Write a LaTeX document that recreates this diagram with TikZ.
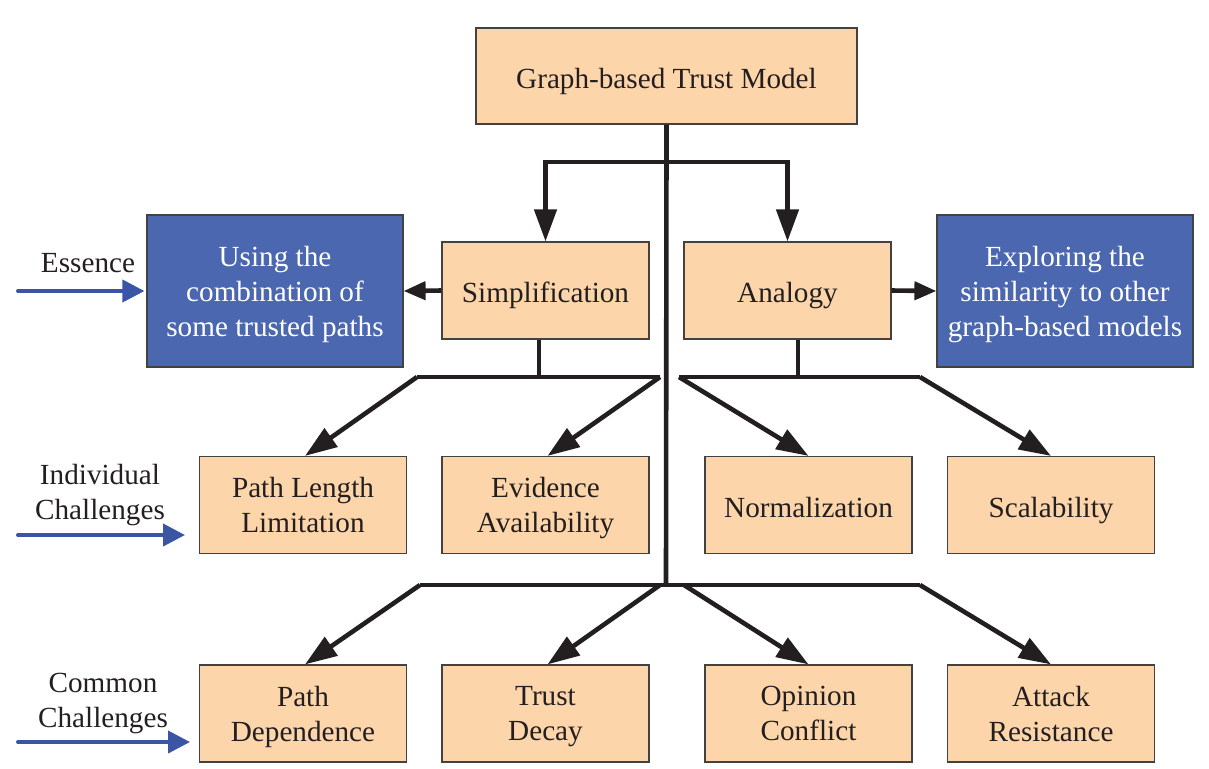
\documentclass[tikz,border=0pt]{standalone}
\usepackage{fontspec}
\setmainfont{Liberation Serif}
\usetikzlibrary{arrows.meta}
\definecolor{peach}{RGB}{253,213,170}
\definecolor{bluebox}{RGB}{74,103,176}
\definecolor{bluearrow}{RGB}{59,85,165}
\definecolor{ink}{RGB}{35,31,32}
\begin{document}
\begin{tikzpicture}[x=0.5pt,y=-0.5pt,
  every node/.style={font=\fontsize{14.6}{17.5}\selectfont, text=ink, align=center, inner sep=0pt,
    execute at begin node=\strut, execute at end node=\strut},
  boxtext/.style={label={[yshift=-2.6pt, text=ink]center:{#1}}},
  wboxtext/.style={label={[yshift=-2.6pt, text=white]center:{#1}}},
  pbox/.style={draw=ink!85, line width=0.6pt, fill=peach, minimum width=103.5pt, minimum height=48.5pt, boxtext={#1}},
  topbox/.style={pbox={#1}, minimum width=190.5pt, minimum height=48pt},
  bbox/.style={draw=ink!85, line width=0.6pt, fill=bluebox, minimum width=128pt, minimum height=76pt, wboxtext={#1}},
  tline/.style={draw=ink, line width=2.3pt},
  bigarr/.style={tline, -{Triangle[length=16pt,width=11pt]}},
  smallarr/.style={tline, -{Triangle[length=11pt,width=9pt]}},
  bluearr/.style={draw=bluearrow, line width=2pt, line cap=round, -{Triangle[length=11pt,width=11pt]}},
  lbl/.style={}
]
\useasboundingbox (0,0) rectangle (1209,768);

% nodes
\node[topbox={Graph-based Trust Model}] (top) at (666.5,76) {};
\node[pbox={Simplification}] (simp) at (545.5,290.5) {};
\node[pbox={Analogy}] (ana) at (787.5,290.5) {};
\node[bbox={Using the\\combination of\\some trusted paths}] (bl) at (275,291) {};
\node[bbox={Exploring the\\similarity to other\\graph-based models}] (br) at (1065,291) {};

\node[pbox={Path Length\\Limitation}] (pl) at (303,505) {};
\node[pbox={Evidence\\Availability}] (ev) at (545.5,505) {};
\node[pbox={Normalization}] (no) at (808.5,505) {};
\node[pbox={Scalability}] (sc) at (1051,505) {};

\node[pbox={Path\\Dependence}] (pd) at (303,713.5) {};
\node[pbox={Trust\\Decay}] (td) at (545.5,713.5) {};
\node[pbox={Opinion\\Conflict}] (oc) at (808.5,713.5) {};
\node[pbox={Attack\\Resistance}] (ar) at (1051,713.5) {};

% left labels
\node[lbl] (ess) at (88,265.5) {Essence};
\node[lbl] (ind) at (100,497) {Individual\\Challenges};
\node[lbl] (com) at (103,706) {Common\\Challenges};

% junction coordinates
\coordinate (j1) at (666,162);
\coordinate (jb) at (666,585);
\coordinate (sj) at (539,377);
\coordinate (sL) at (417,377);
\coordinate (sR) at (660,377);
\coordinate (aj) at (798,377);
\coordinate (aL) at (679,377);
\coordinate (aR) at (920,377);
\coordinate (bL) at (420,585);
\coordinate (bM1) at (660,585);
\coordinate (bM2) at (684,585);
\coordinate (bR) at (920,585);

% trunk
\draw[tline] (top.south) -- (jb);
\draw[tline] (545.5,162) -- (787.5,162);
\draw[bigarr] (j1) -| (simp.north);
\draw[bigarr] (j1) -| (ana.north);

% side arrows
\draw[smallarr] (simp.west) -- (bl.east);
\draw[smallarr] (ana.east) -- (br.west);

% simplification branch
\draw[tline] (simp.south -| sj) -- (sj);
\draw[tline] (sL) -- (sR);
\draw[bigarr] (sL) -- ([xshift=1pt]pl.north);
\draw[bigarr] (sR) -- ([xshift=1pt]ev.north);

% analogy branch
\draw[tline] (ana.south -| aj) -- (aj);
\draw[tline] (aL) -- (aR);
\draw[bigarr] (aL) -- (no.north);
\draw[bigarr] (aR) -- (sc.north);

% common branch
\draw[tline] (bL) -- (bR);
\draw[bigarr] (bL) -- ([xshift=1pt]pd.north);
\draw[bigarr] (bM1) -- ([xshift=1pt]td.north);
\draw[bigarr] (bM2) -- (oc.north);
\draw[bigarr] (bR) -- (ar.north);

% blue arrows
\coordinate (e0) at (18,291);
\coordinate (i0) at (18,535);
\coordinate (i1) at (185,535);
\coordinate (c0) at (18,742);
\coordinate (c1) at (190,742);
\draw[bluearr] (e0) -- ([xshift=-1pt]bl.west);
\draw[bluearr] (i0) -- (i1);
\draw[bluearr] (c0) -- (c1);
\end{tikzpicture}
\end{document}
